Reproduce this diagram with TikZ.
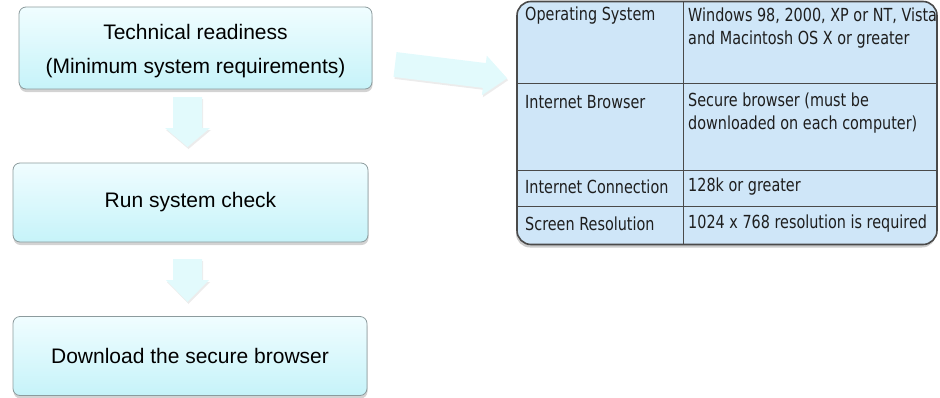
\documentclass[tikz,border=0pt]{standalone}
\usepackage{fontspec}
\setmainfont{Liberation Sans}
\newfontfamily\tblfont[FakeStretch=0.8]{DejaVu Sans}
\usetikzlibrary{shadows,calc}

\definecolor{boxtop}{HTML}{F0FDFF}
\definecolor{boxbot}{HTML}{C6F3F9}
\definecolor{boxedge}{HTML}{8C9B9D}
\definecolor{arrowfill}{HTML}{E2FAFC}
\definecolor{tblfill}{HTML}{CFE6F8}
\definecolor{tbledge}{HTML}{4A4A4A}
\definecolor{tbltext}{HTML}{1E1E1E}

\begin{document}
\begin{tikzpicture}[x=1pt,y=-1pt,
  stepbox/.style={draw=boxedge, line width=0.8pt, rounded corners=7pt,
    top color=boxtop, bottom color=boxbot,
    drop shadow={opacity=0.35, shadow xshift=0.5pt, shadow yshift=-3pt},
    inner sep=0pt},
  boxtext/.style={font=\fontsize{21}{34}\selectfont, align=center, inner sep=0pt},
  blockarrow/.style={fill=arrowfill, draw=none,
    drop shadow={opacity=0.15, shadow xshift=1pt, shadow yshift=-2pt}},
  tablebox/.style={draw=tbledge, line width=1.6pt, fill=tblfill, rounded corners=14pt,
    drop shadow={opacity=0.4, shadow xshift=-1pt, shadow yshift=-3pt}},
  gridline/.style={draw=tbledge, line width=0.8pt},
  cell/.style={font=\tblfont\fontsize{18}{23}\selectfont, text=tbltext, anchor=west,
    align=left, inner sep=0pt},
]
\useasboundingbox (0,0) rectangle (940,397);

% left flow boxes
\node[stepbox, minimum width=353pt, minimum height=82pt] (tech) at (195.5,48) {};
\node[boxtext] (techtext) at ($(tech.center)+(0,3.5)$)
  {Technical readiness\\(Minimum system requirements)};
\node[stepbox, minimum width=355pt, minimum height=79pt] (run) at (190.5,202.5) {};
\node[boxtext] (runtext) at (run.center) {Run system check};
\node[stepbox, minimum width=354pt, minimum height=79pt] (dl) at (190,356) {};
\node[boxtext] (dltext) at (dl.center) {Download the secure browser};

% block arrows
\fill[blockarrow] (173,97) -- (202,97) -- (202,128) -- (210,128) -- (187.5,147)
  -- (165,128) -- (173,128) -- cycle;
\fill[blockarrow] (173,259) -- (202,259) -- (202,280) -- (209,280) -- (187.5,302)
  -- (166,280) -- (173,280) -- cycle;
\begin{scope}[shift={(395,64.5)}, rotate=-7]
  \fill[blockarrow] (0,-12.5) -- (90,-12.5) -- (90,-20) -- (113,0) -- (90,20)
    -- (90,12.5) -- (0,12.5) -- cycle;
\end{scope}

% table
\node[tablebox, minimum width=420pt, minimum height=243pt, inner sep=0pt] (tbl) at (727,123) {};
\draw[gridline] (517,83) -- (937,83);
\draw[gridline] (517,170) -- (937,170);
\draw[gridline] (517,206) -- (937,206);
\draw[gridline] (683,1.5) -- (683,244.5);

\node[cell] (osk) at (525,16) {Operating System};
\node[cell] (osv) at (688,28) {Windows 98, 2000, XP or NT, Vista\\and Macintosh OS X or greater};
\node[cell] (brk) at (525,102) {Internet Browser};
\node[cell] (brv) at (688,113.5) {Secure browser (must be\\downloaded on each computer)};
\node[cell] (cnk) at (525,187) {Internet Connection};
\node[cell] (cnv) at (688,187) {128k or greater};
\node[cell] (rsk) at (525,224) {Screen Resolution};
\node[cell] (rsv) at (688,224) {1024 x 768 resolution is required};
\end{tikzpicture}
\end{document}
